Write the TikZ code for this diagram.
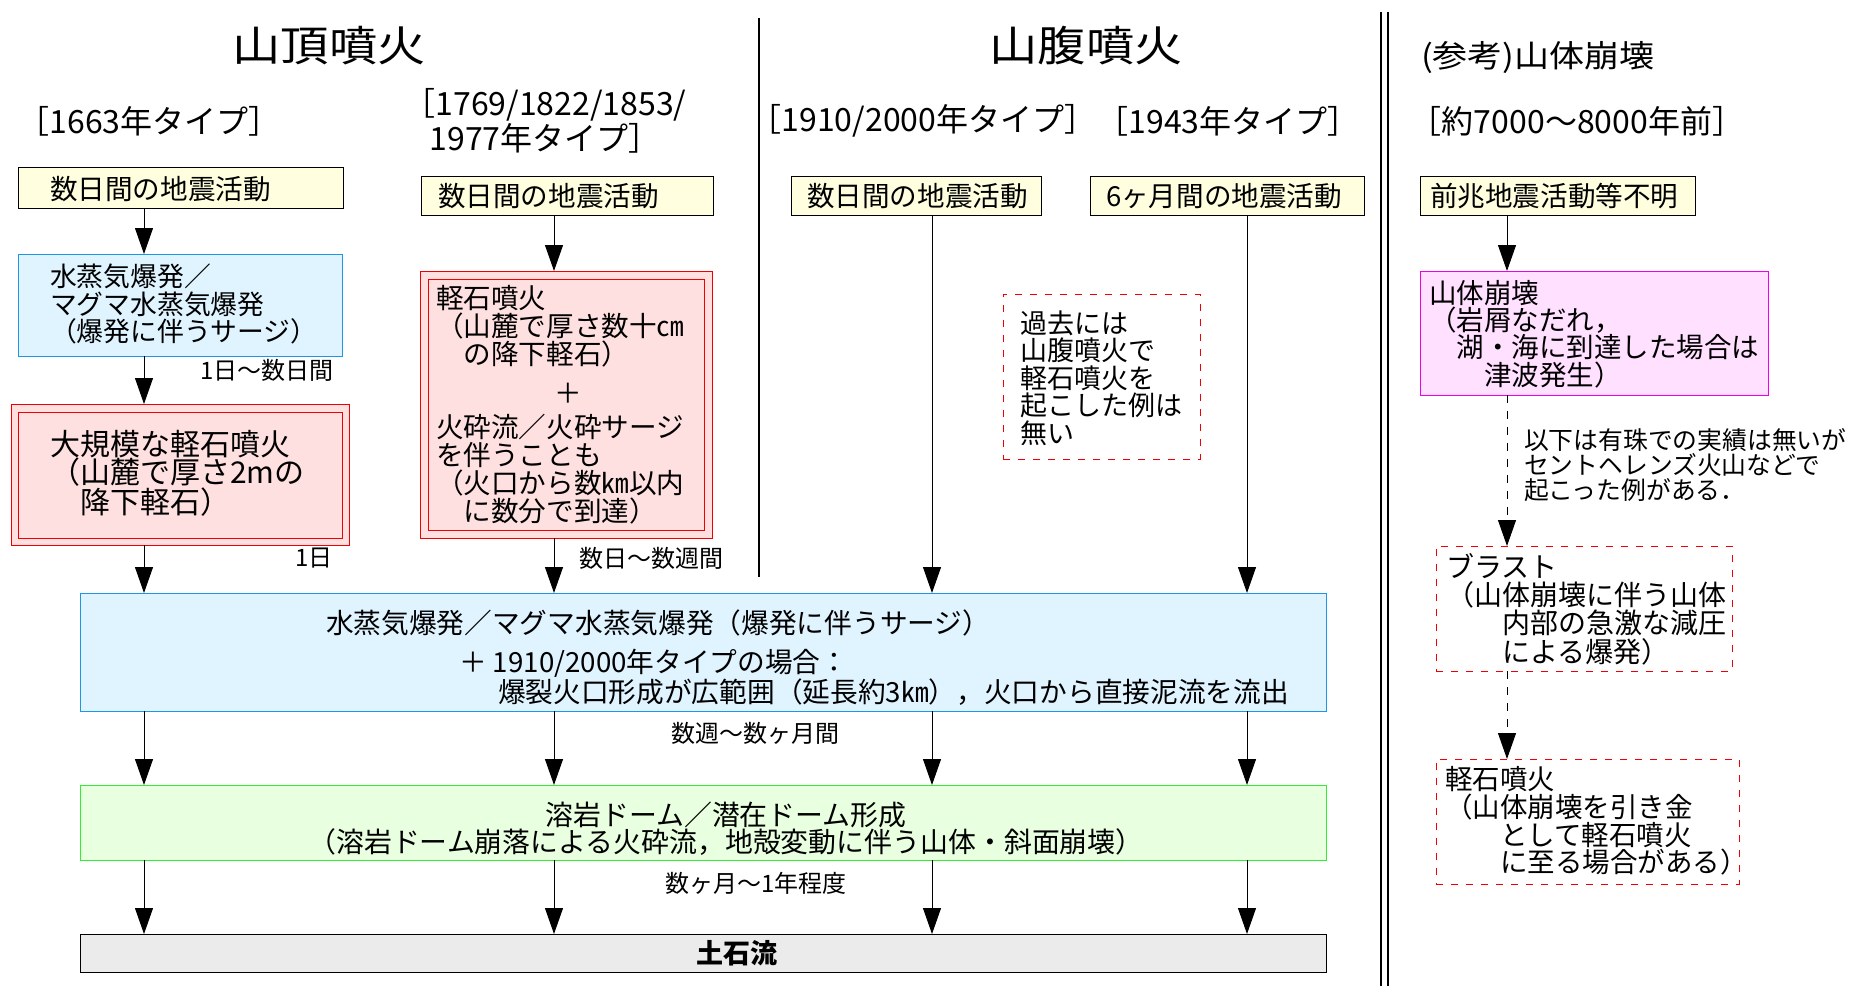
\documentclass[tikz,border=0pt]{standalone}
\usepackage{fontspec}
\setmainfont{Noto Sans CJK JP}
\usetikzlibrary{arrows.meta}
\definecolor{yfill}{RGB}{255,255,224}
\definecolor{bfill}{RGB}{224,244,255}
\definecolor{bline}{RGB}{30,150,230}
\definecolor{pfill}{RGB}{255,224,224}
\definecolor{rline}{RGB}{240,0,0}
\definecolor{mfill}{RGB}{255,224,255}
\definecolor{mline}{RGB}{238,0,238}
\definecolor{gfill}{RGB}{232,255,224}
\definecolor{gline}{RGB}{51,238,51}
\definecolor{grfill}{RGB}{235,235,235}
\begin{document}
\begin{tikzpicture}[x=1pt,y=-1pt,
  every node/.style={inner sep=0pt,outer sep=0pt},
  box/.style={draw,rectangle,anchor=north west,line width=1pt},
  ybox/.style={box,fill=yfill,draw=black},
  bbox/.style={box,fill=bfill,draw=bline},
  pbox/.style={box,fill=pfill,draw=rline},
  mbox/.style={box,fill=mfill,draw=mline},
  gbox/.style={box,fill=gfill,draw=gline},
  grbox/.style={box,fill=grfill,draw=black},
  dbox/.style={box,draw=rline,dash pattern=on 7pt off 8pt},
  txt/.style={anchor=west,align=left},
  body/.style={font=\fontsize{27.6}{28}\selectfont},
  wide/.style={font=\fontsize{27.7}{28}\selectfont},
  lbl/.style={anchor=west,font=\fontsize{24}{25}\selectfont},
  hdr/.style={font=\fontsize{32}{35}\selectfont},
  arr/.style={line width=1pt,-{Triangle[length=26pt,width=18pt]}},
  darr/.style={arr,dash pattern=on 8pt off 8pt}]
\useasboundingbox (0,0) rectangle (1856,996);
\fill[white] (0,0) rectangle (1856,996);

% separators
\draw[line width=1.2pt] (759,18) -- (759,577);
\draw[line width=1.6pt] (1381,12) -- (1381,986);
\draw[line width=1.6pt] (1388,12) -- (1388,986);

% column coordinates
\coordinate (c1) at (144,0);
\coordinate (c2) at (554,0);
\coordinate (c3) at (932,0);
\coordinate (c4) at (1247,0);
\coordinate (c5) at (1507,0);

% titles
\node (T1) at (329,46) {\scalebox{1.15}[1]{\fontsize{42}{42}\selectfont 山頂噴火}};
\node (T2) at (1086,46) {\scalebox{1.15}[1]{\fontsize{42}{42}\selectfont 山腹噴火}};
\node (T3) at (1538,58) {\scalebox{1.13}[1]{\fontsize{31}{31}\selectfont (参考)山体崩壊}};

% headers
\node[hdr] (H1) at (149,121) {［1663年タイプ］};
\node[hdr,align=center] (H2) at (545,121) {［1769/1822/1853/\\1977年タイプ］};
\node[hdr] (H3) at (923,121) {［1910/2000年タイプ］};
\node[hdr] (H4) at (1228,121) {［1943年タイプ］};
\node[hdr] (H5) at (1577,121) {［約7000～8000年前］};

% yellow boxes
\node[ybox,minimum width=325pt,minimum height=41pt] (A1) at (18,167) {};
\node[txt,body] (A1t) at (50,189) {数日間の地震活動};
\node[ybox,minimum width=292pt,minimum height=39pt] (B1) at (421,176) {};
\node[txt,body] (B1t) at (438,196) {数日間の地震活動};
\node[ybox,minimum width=250pt,minimum height=39pt] (C1) at (791,176) {};
\node[txt,body] (C1t) at (807,196) {数日間の地震活動};
\node[ybox,minimum width=274pt,minimum height=39pt] (D1) at (1090,176) {};
\node[txt,body] (D1t) at (1106,196) {6ヶ月間の地震活動};
\node[ybox,minimum width=275pt,minimum height=39pt] (E1) at (1420,176) {};
\node[txt,body] (E1t) at (1430,196) {前兆地震活動等不明};

% column 1
\node[bbox,minimum width=324pt,minimum height=102pt] (A2) at (18,254) {};
\node[txt,font=\fontsize{26.8}{27.5}\selectfont] (A2t) at (50,304) {水蒸気爆発／\\マグマ水蒸気爆発\\（爆発に伴うサージ）};
\node[pbox,minimum width=338pt,minimum height=141pt] (A3) at (11,404) {};
\node[pbox,minimum width=324pt,minimum height=126pt] (A3i) at (18,412) {};
\node[txt,font=\fontsize{30}{28.5}\selectfont] (A3t) at (50,473) {大規模な軽石噴火\\（山麓で厚さ2mの\\　降下軽石）};
\node[lbl] (L1) at (200,370) {1日～数日間};
\node[lbl] (L2) at (295,558) {1日};

% column 2
\node[pbox,minimum width=292pt,minimum height=267pt] (B2) at (420,271) {};
\node[pbox,minimum width=276pt,minimum height=251pt] (B2i) at (428,279) {};
\node[txt,body] (B2t) at (436,326) {軽石噴火\\（山麓で厚さ数十㎝\\　の降下軽石）};
\node[body] (B2p) at (568,393) {＋};
\node[txt,body] (B2u) at (436,469) {火砕流／火砕サージ\\を伴うことも\\（火口から数㎞以内\\　に数分で到達）};
\node[lbl] (L3) at (579,558) {数日～数週間};

% note box
\node[dbox,minimum width=197pt,minimum height=165pt] (P1) at (1003,294) {};
\node[txt,font=\fontsize{27}{27.5}\selectfont] (P1t) at (1020,378) {過去には\\山腹噴火で\\軽石噴火を\\起こした例は\\無い};

% column 5
\node[mbox,minimum width=348pt,minimum height=124pt] (E2) at (1420,271) {};
\node[txt,font=\fontsize{27.5}{27.3}\selectfont] (E2t) at (1429,334) {山体崩壊\\（岩屑なだれ，\\　湖・海に到達した場合は\\　　津波発生）};
\node[txt,font=\fontsize{24.8}{25}\selectfont] (N1) at (1524,465) {以下は有珠での実績は無いが\\セントヘレンズ火山などで\\起こった例がある．};
\node[dbox,minimum width=296pt,minimum height=125pt] (BL) at (1436,546) {};
\node[txt,font=\fontsize{28}{28.3}\selectfont] (BLt) at (1446,609) {ブラスト\\（山体崩壊に伴う山体\\　　内部の急激な減圧\\　　による爆発）};
\node[dbox,minimum width=303pt,minimum height=125pt] (PU) at (1436,759) {};
\node[txt,font=\fontsize{27.5}{27.7}\selectfont] (PUt) at (1445,821) {軽石噴火\\（山体崩壊を引き金\\　　として軽石噴火\\　　に至る場合がある）};

% wide boxes
\node[bbox,minimum width=1246pt,minimum height=118pt] (BIG) at (80,593) {};
\node[txt,wide] (BIGa) at (326,623) {水蒸気爆発／マグマ水蒸気爆発（爆発に伴うサージ）};
\node[txt,wide] (BIGb) at (459,663) {＋ 1910/2000年タイプの場合：};
\node[txt,wide] (BIGc) at (498,692) {爆裂火口形成が広範囲（延長約3㎞），火口から直接泥流を流出};
\node[lbl] (L4) at (671,733) {数週～数ヶ月間};
\node[gbox,minimum width=1246pt,minimum height=75pt] (GR) at (80,785) {};
\node[align=center,font=\fontsize{27.9}{27}\selectfont] (GRt) at (726,829) {溶岩ドーム／潜在ドーム形成\\（溶岩ドーム崩落による火砕流，地殻変動に伴う山体・斜面崩壊）};
\node[lbl] (L5) at (665,883) {数ヶ月～1年程度};
\node[grbox,minimum width=1246pt,minimum height=38pt] (GY) at (80,934) {};
\node[font=\fontsize{27}{27}\selectfont\bfseries] (GYt) at (737,953) {土石流};

% arrows column 1
\draw[arr] (A1.south -| c1) -- (A2.north -| c1);
\draw[arr] (A2.south -| c1) -- (A3.north -| c1);
\draw[arr] (A3.south -| c1) -- (BIG.north -| c1);
% column 2
\draw[arr] (B1.south -| c2) -- (B2.north -| c2);
\draw[arr] (B2.south -| c2) -- (BIG.north -| c2);
% columns 3,4
\draw[arr] (C1.south -| c3) -- (BIG.north -| c3);
\draw[arr] (D1.south -| c4) -- (BIG.north -| c4);
% lower rows
\foreach \c in {c1,c2,c3,c4}{
  \draw[arr] (BIG.south -| \c) -- (GR.north -| \c);
  \draw[arr] (GR.south -| \c) -- (GY.north -| \c);
}
% column 5
\draw[arr] (E1.south -| c5) -- (E2.north -| c5);
\draw[darr] (E2.south -| c5) -- (BL.north -| c5);
\draw[darr] (BL.south -| c5) -- (PU.north -| c5);
\end{tikzpicture}
\end{document}
